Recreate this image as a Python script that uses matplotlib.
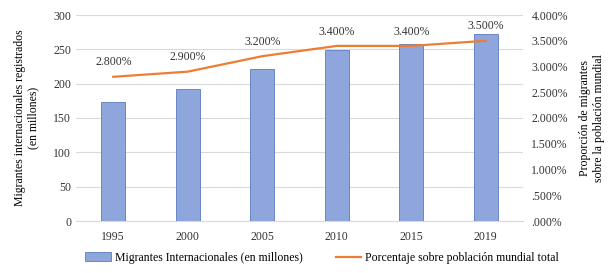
import matplotlib
matplotlib.use("Agg")
import matplotlib.pyplot as plt
from matplotlib.ticker import FuncFormatter
from matplotlib.lines import Line2D
from matplotlib.patches import Patch

plt.rcParams['font.family'] = ['Liberation Serif', 'DejaVu Serif']

years = ["1995", "2000", "2005", "2010", "2015", "2019"]
migrants = [174, 192, 221, 249, 258, 272]
pct = [2.8, 2.9, 3.2, 3.4, 3.4, 3.5]
pct_labels = ["2.800%", "2.900%", "3.200%", "3.400%", "3.400%", "3.500%"]

fig = plt.figure(figsize=(6.11, 2.73), dpi=100)
ax = fig.add_axes([76/611, 1-221/273, (523-76)/611, (221-15)/273])
x = list(range(len(years)))
ax.bar(x, migrants, width=0.32, color="#8EA6DB", edgecolor="#5B7BC0", linewidth=0.6, zorder=3)
ax.set_ylim(0, 300)
ax.set_xlim(-0.5, len(years)-0.5)
ax.set_yticks(range(0, 301, 50))
ax.set_xticks(x)
ax.set_xticklabels(years)
ax.yaxis.grid(True, color="#D9D9D9", linewidth=0.8, zorder=0)
for s in ["top", "right", "left"]:
    ax.spines[s].set_visible(False)
ax.spines["bottom"].set_color("#D9D9D9")
ax.tick_params(axis="both", length=0, labelsize=8.5, colors="#333333")
ax.tick_params(axis="x", pad=7)
ax.set_ylabel("Migrantes internacionales registrados\n(en millones)", fontsize=8.5, labelpad=10)

ax2 = ax.twinx()
ax2.plot(x, pct, color="#ED7D31", linewidth=1.6, zorder=4)
ax2.set_ylim(0, 4)
ax2.set_yticks([i*0.5 for i in range(9)])
ax2.yaxis.set_major_formatter(FuncFormatter(lambda v, p: ("%.3f%%" % v).lstrip("0") if v < 1 else "%.3f%%" % v))
for s in ["top", "right", "left", "bottom"]:
    ax2.spines[s].set_visible(False)
ax2.tick_params(axis="y", length=0, labelsize=8.5, colors="#333333", pad=6)
ax2.set_ylabel("Proporción de migrantes\nsobre la población mundial", fontsize=8.5, labelpad=8)
for xi, v, lab in zip(x, pct, pct_labels):
    ax2.annotate(lab, (xi, v), xytext=(0, 6), textcoords="offset points",
                 ha="center", va="bottom", fontsize=8.5, color="#333333")

handles = [Patch(facecolor="#8EA6DB", edgecolor="#5B7BC0", linewidth=0.6),
           Line2D([0], [0], color="#ED7D31", linewidth=1.6)]
labels = ["Migrantes Internacionales (en millones)", "Porcentaje sobre población mundial total"]
fig.legend(handles, labels, loc="center", bbox_to_anchor=(322/611, 1-258/273), ncol=2,
           frameon=False, fontsize=8.5, columnspacing=2.8, handlelength=2.2,
           handletextpad=0.3, handleheight=0.8)

fig.savefig("out.png", dpi=100)
